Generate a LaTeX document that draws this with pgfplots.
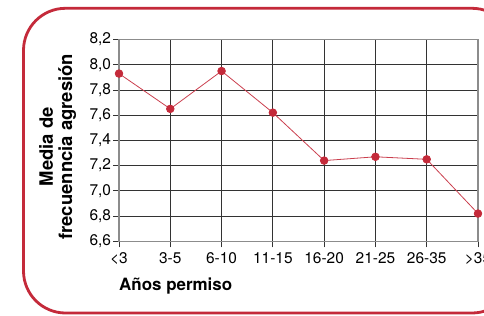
\documentclass[border=0pt]{standalone}
\usepackage{fontspec}
\setmainfont{TeX Gyre Heros}
\usepackage{pgfplots}
\pgfplotsset{compat=1.18}
\definecolor{cred}{HTML}{C42A3A}
\begin{document}
\begin{tikzpicture}[x=1bp,y=1bp]
\useasboundingbox (0,0) rectangle (484,315);
\clip (0,0) rectangle (484,315);
\draw[cred, line width=2.8bp, rounded corners=42bp] (23.5,2) rectangle (514,306.7);
\begin{axis}[
 at={(119bp,73.7bp)}, anchor=south west, scale only axis,
 width=359bp, height=201.8bp,
 xmin=0, xmax=7, ymin=6.6, ymax=8.2,
 xtick={0,1,2,3,4,5,6,7},
 xticklabels={<3,3-5,6-10,11-15,16-20,21-25,26-35,>35},
 ytick={6.6,6.8,7.0,7.2,7.4,7.6,7.8,8.0,8.2},
 tick pos=left,
 grid=major, tick align=outside, major tick length=6bp,
 tick style={black!80, line width=0.8bp},
 major grid style={black!80, line width=0.8bp},
 axis line style={black!45, line width=1.4bp},
 ticklabel style={font=\fontsize{15.5}{18}\selectfont},
 xticklabel style={yshift=-1.5bp},
 yticklabel style={xshift=1.5bp, /pgf/number format/.cd, fixed, fixed zerofill, precision=1, use comma, assume math mode=true},
 xlabel={Años permiso},
 xlabel style={at={(axis description cs:0,0)}, anchor=base west, yshift=-48.7bp, inner sep=0pt, font=\bfseries\fontsize{17}{20}\selectfont},
 ylabel={Media de\\frecuenncia agresión},
 ylabel style={at={(axis description cs:-0.171,0.468)}, anchor=center, align=center, font=\bfseries\fontsize{18.5}{19.5}\selectfont},
]
\addplot[cred!90, line width=0.8bp, mark=*, mark size=3.8bp, mark options={fill=cred, draw=cred}] coordinates {(0,7.93)(1,7.65)(2,7.95)(3,7.62)(4,7.24)(5,7.27)(6,7.25)(7,6.82)};
\end{axis}
\end{tikzpicture}
\end{document}
